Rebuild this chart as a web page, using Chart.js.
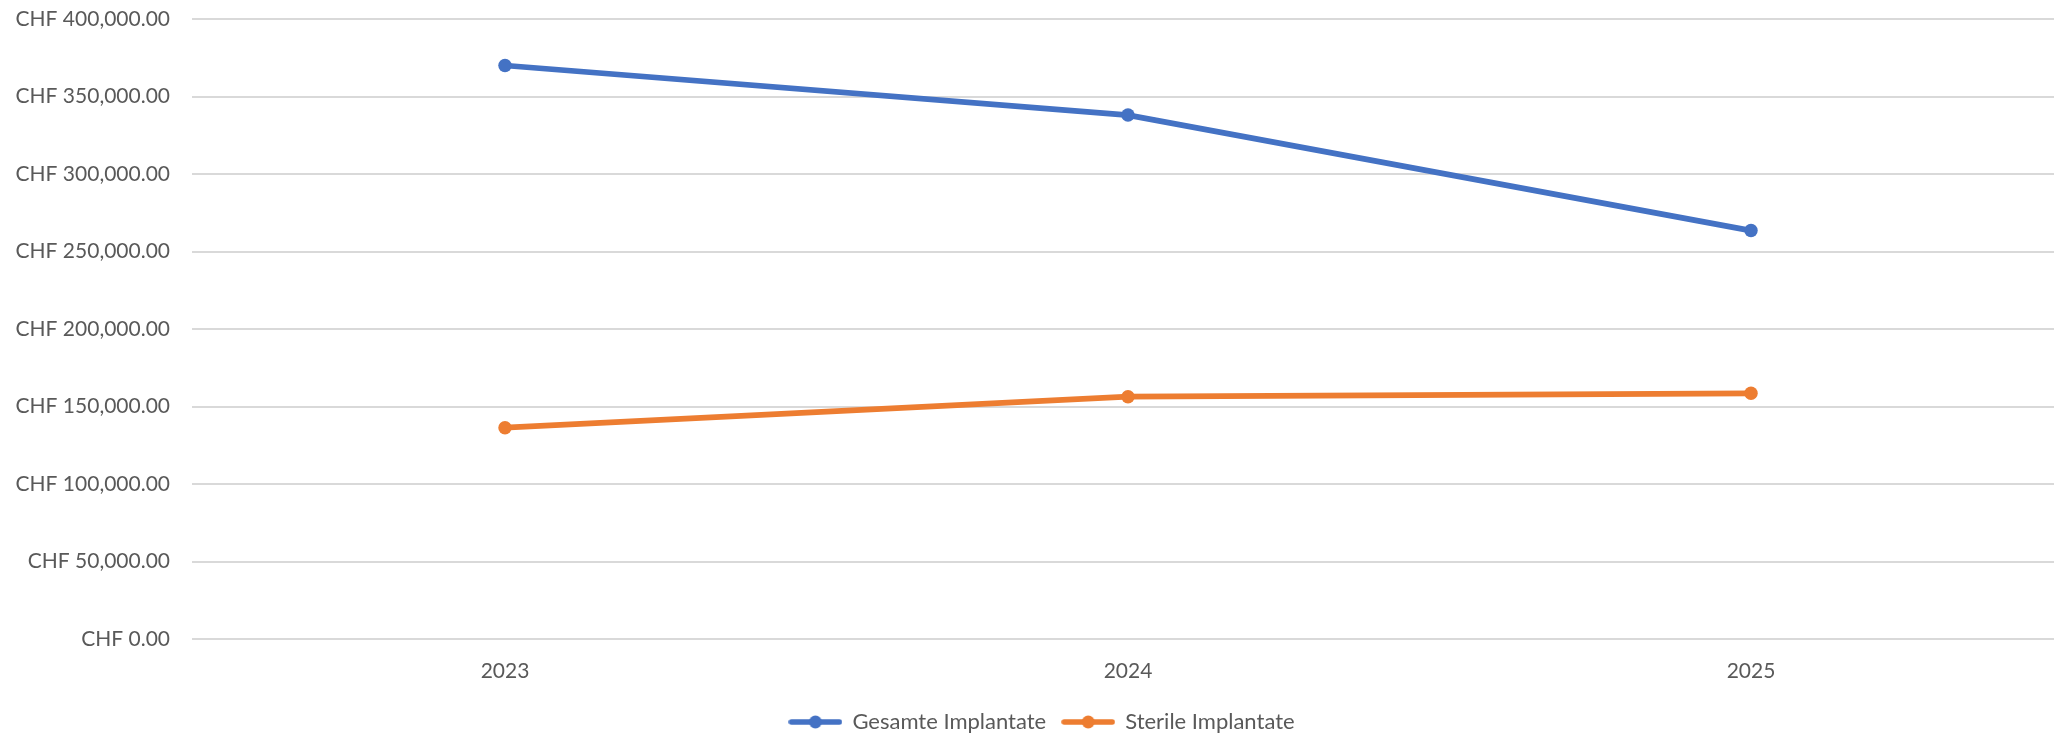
<!DOCTYPE html>
<html>
<head>
<meta charset="utf-8">
<script src="https://cdn.jsdelivr.net/npm/chart.js@4.4.1/dist/chart.umd.min.js"></script>
<style>
  html, body { margin: 0; padding: 0; background: #ffffff; }
  #wrap { width: 2054px; height: 738px; }
</style>
</head>
<body>
<div id="wrap"><canvas id="chart" width="2054" height="738"></canvas></div>
<script>
// Jahre auf der x-Achse
const years = ['2023', '2024', '2025'];
// Kosten in CHF
const gesamteImplantate = [370000, 338000, 263500];
const sterileImplantate = [136300, 156300, 158500];
// Beschriftungen der Datenreihen
const seriesNames = ['Gesamte Implantate', 'Sterile Implantate'];

const BLUE = '#4472C4';
const ORANGE = '#ED7D31';
const TEXT = '#595959';
const GRID = '#D9D9D9';
const FONT = 'Lato, "Open Sans", sans-serif';

// Legendensymbol: Linie mit Punkt in der Mitte
function legendMarker(color) {
  const c = document.createElement('canvas');
  c.width = 54; c.height = 16;
  const g = c.getContext('2d');
  g.strokeStyle = color;
  g.lineWidth = 5.5;
  g.lineCap = 'round';
  g.beginPath(); g.moveTo(3, 8); g.lineTo(51, 8); g.stroke();
  g.fillStyle = color;
  g.beginPath(); g.arc(27, 8, 6.5, 0, Math.PI * 2); g.fill();
  return c;
}

const chf = v => 'CHF ' + Number(v).toLocaleString('en-US', { minimumFractionDigits: 2, maximumFractionDigits: 2 });

// Feste Zeichenfläche, Kategorienbreite und Legendenposition
const layoutTweaks = {
  id: 'layoutTweaks',
  afterLayout(chart) {
    const area = chart.chartArea;
    area.top = 19;
    area.bottom = 639;
    area.height = 620;
    area.left = 192;
    area.right = 2054;
    area.width = 2054 - 192;

    const y = chart.scales.y;
    y.top = 19;
    y.bottom = 639;
    y.height = 620;
    y.configure();

    const x = chart.scales.x;
    x.top = 639;
    x.bottom = 639 + 53;
    x.left = 193.5;
    x.right = 193.5 + 1869;
    x.width = 1869;
    x.configure();

    const lg = chart.legend;
    if (lg) {
      lg.left += 30;
      lg.top += 5;
      lg.bottom += 5;
    }
  }
};

new Chart(document.getElementById('chart'), {
  type: 'line',
  plugins: [layoutTweaks],
  data: {
    labels: years,
    datasets: [
      {
        label: seriesNames[0],
        data: gesamteImplantate,
        borderColor: BLUE,
        backgroundColor: BLUE,
        borderWidth: 5.75,
        pointRadius: 6.75,
        pointHoverRadius: 6.75,
        pointBackgroundColor: BLUE,
        pointBorderWidth: 0,
        tension: 0
      },
      {
        label: seriesNames[1],
        data: sterileImplantate,
        borderColor: ORANGE,
        backgroundColor: ORANGE,
        borderWidth: 5.75,
        pointRadius: 6.75,
        pointHoverRadius: 6.75,
        pointBackgroundColor: ORANGE,
        pointBorderWidth: 0,
        tension: 0
      }
    ]
  },
  options: {
    responsive: false,
    animation: false,
    devicePixelRatio: 1,
    clip: false,
    layout: { padding: { top: 4, left: 0, right: 0, bottom: 0 } },
    plugins: {
      tooltip: { enabled: false },
      legend: {
        position: 'bottom',
        labels: {
          color: TEXT,
          font: { family: FONT, size: 22 },
          usePointStyle: true,
          pointStyleWidth: 52,
          boxHeight: 16,
          padding: 16,
          generateLabels(chart) {
            return chart.data.datasets.map((ds, i) => ({
              text: ds.label,
              fillStyle: ds.borderColor,
              strokeStyle: ds.borderColor,
              lineWidth: 0,
              pointStyle: legendMarker(ds.borderColor),
              hidden: false,
              datasetIndex: i,
              fontColor: TEXT
            }));
          }
        }
      }
    },
    scales: {
      x: {
        offset: true,
        grid: { display: false, drawTicks: false },
        border: { display: false },
        ticks: { color: TEXT, font: { family: FONT, size: 21 }, padding: 20 },
        afterFit(scale) { scale.height = 53; }
      },
      y: {
        min: 0,
        max: 400000,
        grid: { color: GRID, lineWidth: 2, drawTicks: false },
        border: { display: false },
        ticks: {
          stepSize: 50000,
          color: TEXT,
          font: { family: FONT, size: 21 },
          padding: 22,
          callback: v => chf(v)
        },
        afterFit(scale) { scale.width = 192; }
      }
    }
  }
});
</script>
</body>
</html>
